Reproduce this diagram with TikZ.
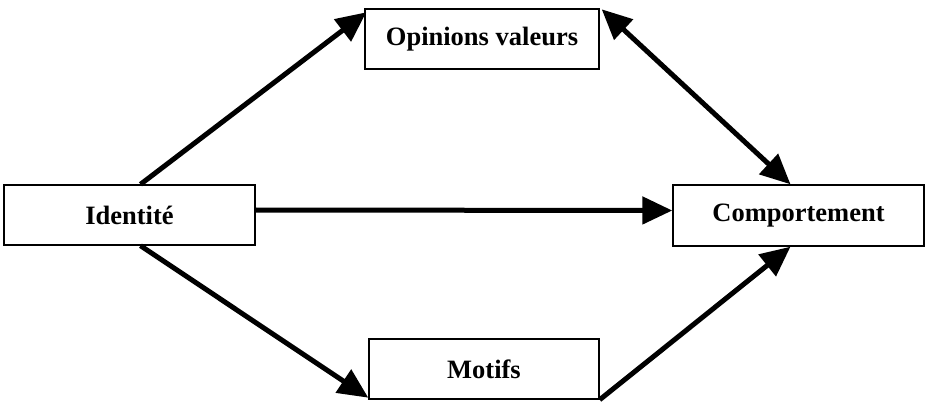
\documentclass[tikz,border=0pt]{standalone}
\usepackage{fontspec}
\setmainfont{Liberation Serif}
\usetikzlibrary{arrows.meta,calc}
\begin{document}
\begin{tikzpicture}[x=1pt,y=1pt,
  box/.style={draw=black,line width=1.4pt,fill=white,minimum height=60pt,
    inner sep=0pt,font=\fontsize{26.5}{30}\selectfont\bfseries},
  link/.style={line width=5pt,-{Triangle[length=30pt,width=27pt]}},
  duallink/.style={line width=5pt,{Triangle[length=30pt,width=27pt]}-{Triangle[length=30pt,width=27pt]}}]
\useasboundingbox (0,0) rectangle (926,402);
% boxes
\node[box,minimum width=234pt] (op) at (482,363) {Opinions valeurs};
\node[box,minimum width=251pt] (id) at (129.5,187) {Identité};
\node[box,minimum width=251pt,minimum height=61pt] (co) at (798.5,186.5) {Comportement};
\node[box,minimum width=230pt] (mo) at (484,33) {Motifs};
% connectors
\draw[link] ($(id.north)+(11,0)$) -- ($(op.north west)+(2,-4)$);
\draw[link] ($(id.east)+(0,5)$) -- ($(co.west)+(0,5)$);
\draw[link] ($(id.south)+(11,0)$) -- ($(mo.south west)+(0,2)$);
\draw[link] (mo.south east) -- ($(co.south)+(-8,0)$);
\draw[duallink] ($(op.north east)+(2,-1)$) -- ($(co.north)+(-8,0)$);
\end{tikzpicture}
\end{document}
